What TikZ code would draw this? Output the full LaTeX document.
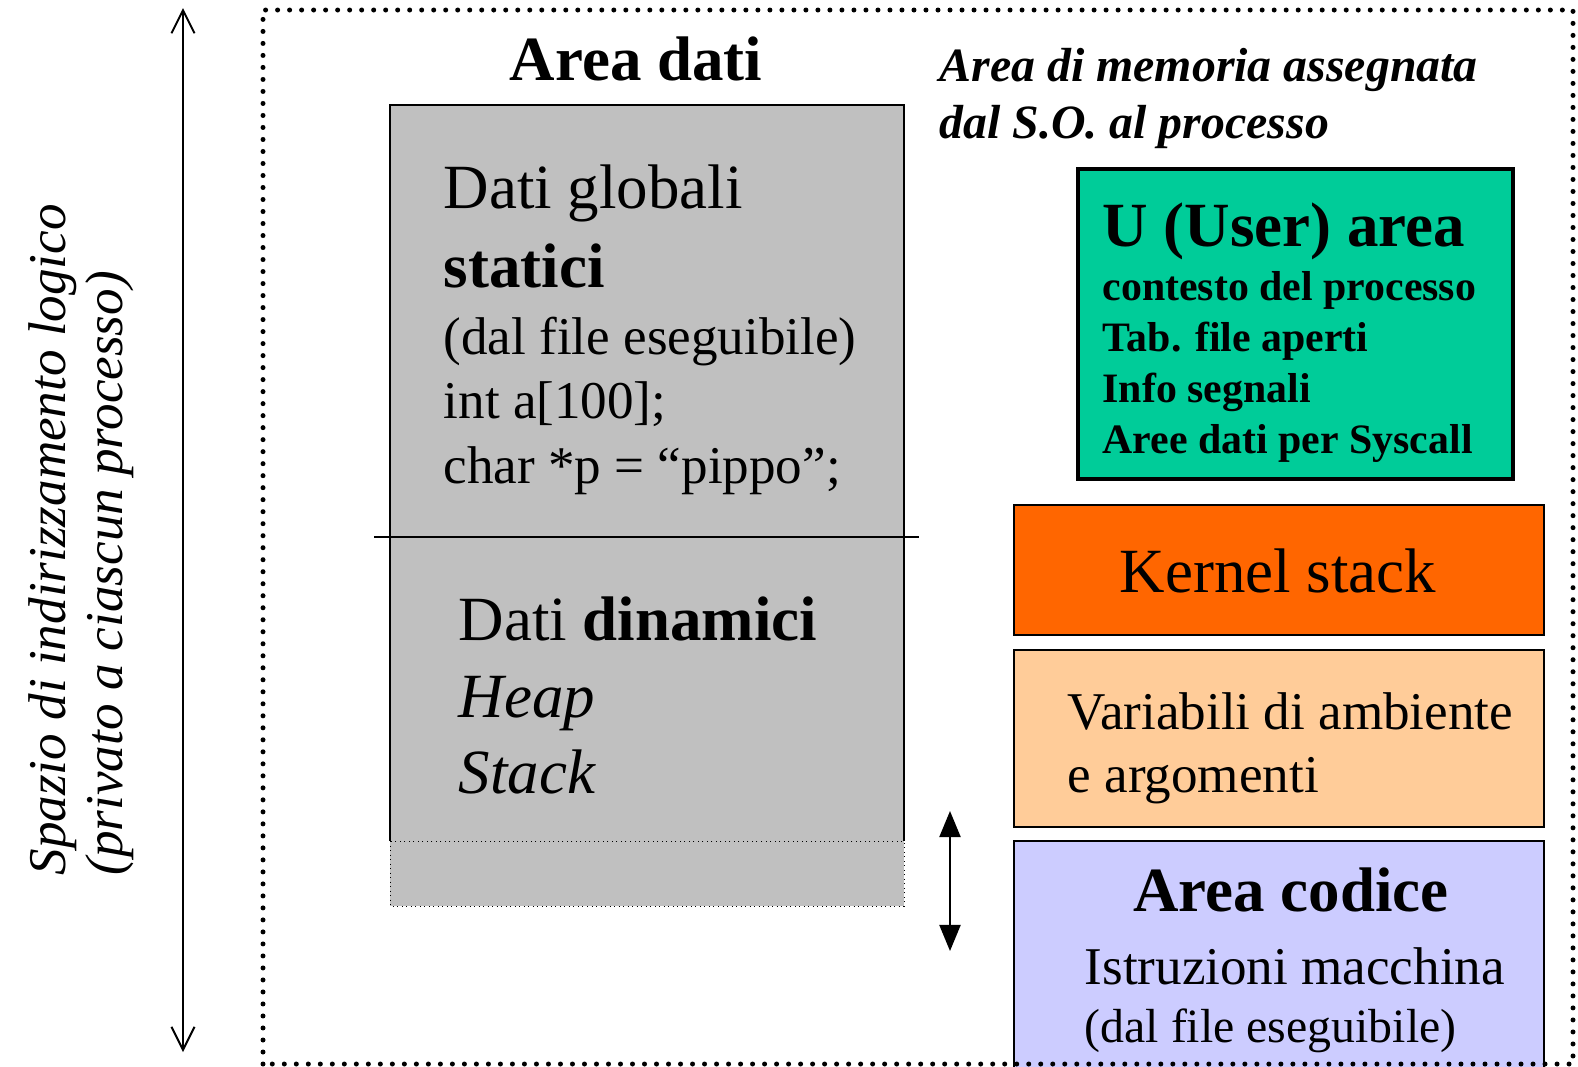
\documentclass[tikz,border=0pt]{standalone}
\usepackage{fontspec}
\setmainfont{Liberation Serif}
\usetikzlibrary{arrows.meta}
\definecolor{cgrigio}{HTML}{C0C0C0}
\definecolor{cverde}{HTML}{00CC99}
\definecolor{carancio}{HTML}{FF6600}
\definecolor{cpesca}{HTML}{FFCC99}
\definecolor{clilla}{HTML}{CCCCFF}
\newcommand\ftitolo{\fontsize{17.9}{21.5}\selectfont}
\newcommand\ftesto{\fontsize{15.1}{18}\selectfont}
\newcommand\fnota{\fontsize{13.6}{16.3}\selectfont}
\newcommand\fvoce{\fontsize{11.9}{14.3}\selectfont}
\tikzset{
  blocco/.style={draw, line width=0.15mm, minimum width=5.3cm, inner sep=0pt},
  riga/.style={anchor=base west, inner sep=0pt},
  centro/.style={anchor=base, inner sep=0pt},
  bordo/.style={line width=0.5mm, line cap=round, dash pattern=on 0pt off 1.2mm},
  freccia/.style={line width=0.2mm,
    {Straight Barb[length=2.3mm,width=2.3mm]}-{Straight Barb[length=2.3mm,width=2.3mm]}},
  frecciap/.style={line width=0.2mm,
    {Triangle[length=2.6mm,width=2.1mm]}-{Triangle[length=2.6mm,width=2.1mm]}},
}

\begin{document}
\begin{tikzpicture}[x=0.01cm, y=-0.01cm]
  \useasboundingbox (0,0) rectangle (1578,1066);
  \clip (0,0) rectangle (1578,1066);

  % asse verticale a sinistra
  \coordinate (asse su) at (183,8);
  \coordinate (asse giu) at (183,1052);
  \draw[freccia] (asse su) -- (asse giu);
  \node[riga, rotate=90, font=\ftesto\itshape] (spazio) at (65,876)
    {Spazio di indirizzamento logico};
  \node[riga, rotate=90, font=\ftesto\itshape] (privato) at (122,876)
    {(privato a ciascun processo)};

  % area dati: parte statica e dinamica
  \fill[cgrigio] (390,105) rectangle (904,906);
  \draw[line width=0.15mm] (390,841) -- (390,105) -- (904,105) -- (904,841);
  \draw[line width=0.1mm, densely dotted] (390,841) rectangle (904,906);
  \coordinate (sep sx) at (374,537);
  \coordinate (sep dx) at (919,537);
  \draw[line width=0.15mm] (sep sx) -- (sep dx);

  \node[centro, font=\ftitolo\bfseries] (tdati) at (636,80) {Area dati};
  \node[riga, font=\ftitolo] (glob) at (443,208) {Dati globali};
  \node[riga, font=\ftitolo\bfseries] (stat) at (443,287) {statici};
  \node[riga, font=\ftesto] (exe) at (443,354) {(dal file eseguibile)};
  \node[riga, font=\ftesto] (vara) at (443,418) {int a[100];};
  \node[riga, font=\ftesto] (varp) at (443,483) {char *p = “pippo”;};
  \node[riga, font=\ftitolo] (dina) at (458,640) {Dati \textbf{dinamici}};
  \node[riga, font=\ftitolo\itshape] (heap) at (458,717) {Heap};
  \node[riga, font=\ftitolo\itshape] (stack) at (458,793) {Stack};

  \coordinate (cresce su) at (950,811);
  \coordinate (cresce giu) at (950,951);
  \draw[frecciap] (cresce su) -- (cresce giu);

  % area assegnata dal sistema operativo
  \node[riga, font=\fnota\bfseries\itshape] (so1) at (939,81) {Area di memoria assegnata};
  \node[riga, font=\fnota\bfseries\itshape] (so2) at (939,138) {dal S.O. al processo};

  \node[blocco, fill=cverde, line width=0.45mm, minimum width=4.35cm,
    minimum height=3.1cm] (uarea) at (1295.5,324) {};
  \node[riga, font=\ftitolo\bfseries] (utit) at (1102,246) {U (User) area};
  \node[riga, font=\fvoce\bfseries] (u1) at (1102,300) {contesto del processo};
  \node[riga, font=\fvoce\bfseries] (u2) at (1102,351) {Tab. file aperti};
  \node[riga, font=\fvoce\bfseries] (u3) at (1102,402) {Info segnali};
  \node[riga, font=\fvoce\bfseries] (u4) at (1102,453) {Aree dati per Syscall};

  \node[blocco, fill=carancio, minimum height=1.3cm] (kernel) at (1279,570) {};
  \node[centro, font=\ftitolo] (kstack) at (1278,592) {Kernel stack};

  \node[blocco, fill=cpesca, minimum height=1.77cm] (amb) at (1279,738.5) {};
  \node[riga, font=\ftesto] (amb1) at (1067,729) {Variabili di ambiente};
  \node[riga, font=\ftesto] (amb2) at (1067,792) {e argomenti};

  \node[blocco, fill=clilla, minimum height=2.6cm] (codice) at (1279,971) {};
  \node[centro, font=\ftitolo\bfseries] (ctit) at (1291,911) {Area codice};
  \node[riga, font=\ftesto] (istr) at (1084,984) {Istruzioni macchina};
  \node[riga, font=\fnota] (cexe) at (1084,1042) {(dal file eseguibile)};

  % confine dello spazio del processo
  \draw[bordo] (263,1064) -- (263,10) -- (1573,10) -- (1573,1064) -- cycle;
\end{tikzpicture}
\end{document}
